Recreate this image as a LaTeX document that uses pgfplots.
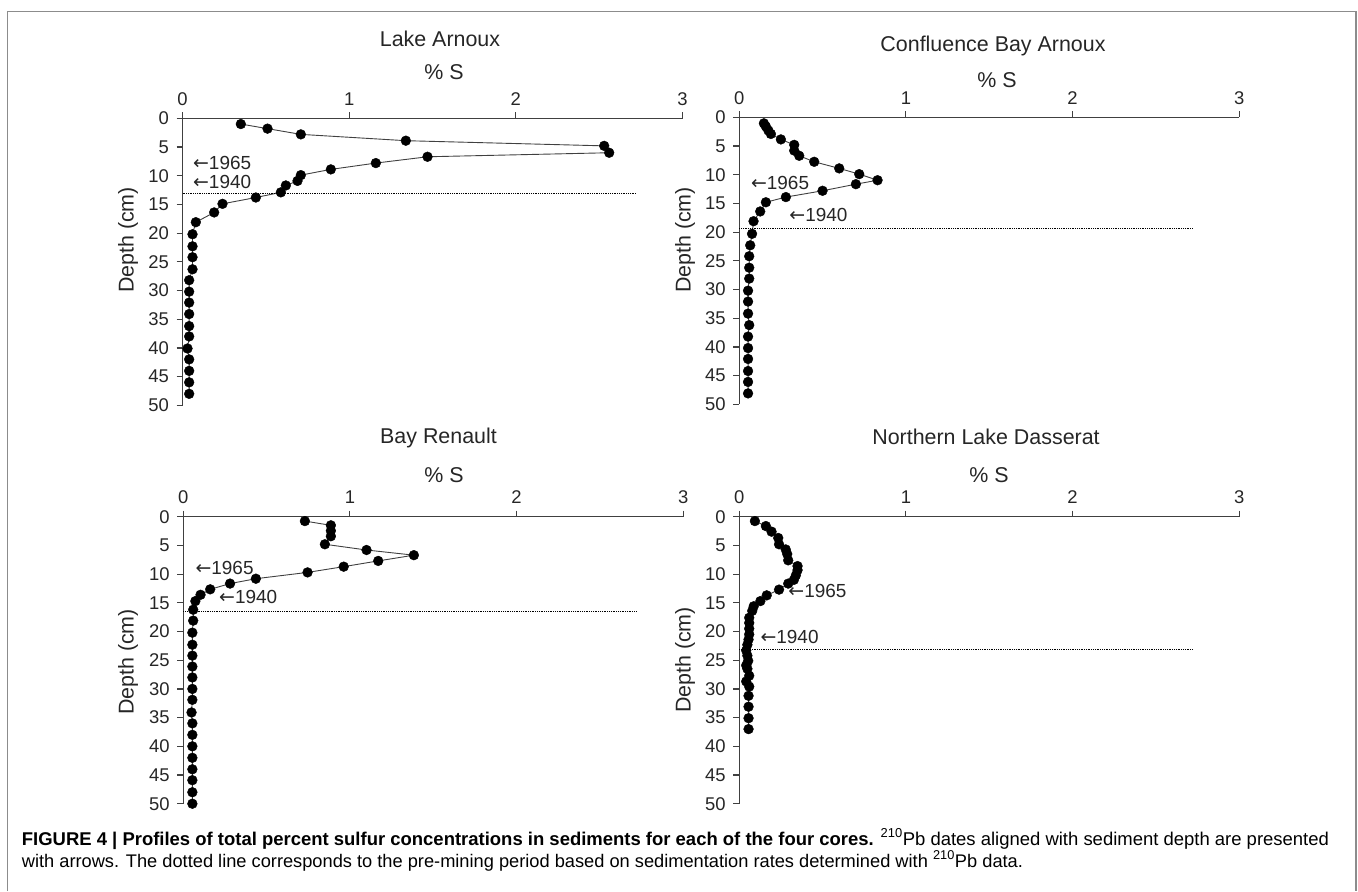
\documentclass[border=0pt]{standalone}
\usepackage{pgfplots}
\pgfplotsset{compat=1.18}
\usepackage{fontspec}
\setmainfont{Liberation Sans}
\newfontfamily\dejavu{DejaVu Sans}
\definecolor{axisgray}{HTML}{404040}
\definecolor{framegray}{HTML}{8C8C8C}
\definecolor{txt}{HTML}{262626}

\pgfplotsset{
  every non boxed x axis/.append style={x axis line style={-}, xtick align=outside},
  every non boxed y axis/.append style={y axis line style={-}, ytick align=outside},
  coreaxis/.style={
    scale only axis, width=500bp, height=287bp, anchor=north west,
    xmin=0, xmax=3, ymin=0, ymax=50, y dir=reverse,
    axis x line=top, axis y line=left,
    axis line style={draw=axisgray, line width=1.2bp},
    xtick={0,1,2,3}, ytick={0,5,...,50},
    major tick length=6bp,
    tick style={draw=axisgray, line width=1.2bp},
    /pgf/number format/assume math mode=true,
    tick label style={font=\fontsize{18.5}{20}\selectfont, text=txt},
    xticklabel style={yshift=3.5bp},
    yticklabel style={xshift=-4bp},
    clip=false,
  },
  profile/.style={color=axisgray, line width=0.9bp, mark=*, mark size=4.9bp,
    mark options={fill=black, draw=black, line width=0.4bp}},
  premine/.style={black, densely dotted, line width=0.8bp, mark=none, forget plot},
}
\newcommand{\ann}{\fontsize{19}{21}\selectfont}
\newcommand{\ttl}{\fontsize{21.5}{23}\selectfont}
\newcommand{\arr}{{\dejavu ←}}

\begin{document}
\begin{tikzpicture}[x=1bp,y=1bp]
\useasboundingbox (0,0) rectangle (1358,-891);
\draw[framegray, line width=1.2bp] (7.3,-891) -- (7.3,-11.7) -- (1356,-11.7) -- (1356,-891);

% ---------- Lake Arnoux ----------
\begin{axis}[coreaxis, at={(182.5bp,-118.3bp)}]
\addplot[profile] coordinates {
(0.35,1.0) (0.51,1.8) (0.71,2.8) (1.34,3.9) (2.53,4.8) (2.56,6.0) (1.47,6.7)
(1.16,7.8) (0.89,8.9) (0.71,9.9) (0.69,10.9) (0.62,11.7) (0.59,12.9) (0.44,13.8)
(0.24,14.9) (0.19,16.4) (0.08,18.1) (0.06,20.2) (0.06,22.3) (0.06,24.2) (0.06,26.3)
(0.04,28.2) (0.04,30.2) (0.04,32.1) (0.04,34.1) (0.04,36.2) (0.04,38.0) (0.03,40.1)
(0.04,42.0) (0.04,44.0) (0.04,46.0) (0.04,48.0)};
\addplot[premine] coordinates {(0,13.0) (2.72,13.0)};
\node[anchor=west, inner sep=0, font=\ann, text=txt] at (axis cs:0.0625,7.85) {\arr1965};
\node[anchor=west, inner sep=0, font=\ann, text=txt] at (axis cs:0.0625,11.1) {\arr1940};
\end{axis}

% ---------- Confluence Bay Arnoux ----------
\begin{axis}[coreaxis, at={(739.2bp,-117.3bp)}]
\addplot[profile] coordinates {
(0.148,1.05) (0.16,1.6) (0.175,2.3) (0.19,2.9) (0.25,3.85) (0.33,4.8) (0.33,5.8)
(0.36,6.7) (0.45,7.75) (0.60,8.9) (0.72,9.9) (0.83,10.96) (0.70,11.65) (0.50,12.8)
(0.28,13.9) (0.16,14.8) (0.126,16.4) (0.086,18.1) (0.077,20.3) (0.066,22.3) (0.06,24.2)
(0.06,26.2) (0.06,28.1) (0.053,30.2) (0.053,32.1) (0.053,34.2) (0.06,36.2) (0.053,38.2)
(0.053,40.2) (0.053,42.1) (0.053,44.2) (0.053,46.1) (0.053,48.1)};
\addplot[premine] coordinates {(0,19.3) (2.72,19.3)};
\node[anchor=west, inner sep=0, font=\ann, text=txt] at (axis cs:0.07,11.4) {\arr1965};
\node[anchor=west, inner sep=0, font=\ann, text=txt] at (axis cs:0.30,17.1) {\arr1940};
\end{axis}

% ---------- Bay Renault ----------
\begin{axis}[coreaxis, at={(183.2bp,-516.7bp)}]
\addplot[profile] coordinates {
(0.73,0.76) (0.886,1.5) (0.886,2.45) (0.886,3.4) (0.85,4.8) (1.10,5.8) (1.384,6.7)
(1.17,7.7) (0.963,8.7) (0.746,9.7) (0.436,10.8) (0.281,11.65) (0.162,12.65) (0.104,13.6)
(0.073,14.7) (0.06,16.2) (0.06,18.1) (0.055,20.2) (0.055,22.3) (0.055,24.2) (0.055,26.1)
(0.055,28.0) (0.055,30.0) (0.055,31.9) (0.05,34.1) (0.055,36.0) (0.055,38.0) (0.055,40.0)
(0.055,42.0) (0.055,44.0) (0.055,45.9) (0.055,48.0) (0.055,50.0)};
\addplot[premine] coordinates {(0,16.5) (2.72,16.5)};
\node[anchor=west, inner sep=0, font=\ann, text=txt] at (axis cs:0.073,9.0) {\arr1965};
\node[anchor=west, inner sep=0, font=\ann, text=txt] at (axis cs:0.215,14.0) {\arr1940};
\end{axis}

% ---------- Northern Lake Dasserat ----------
\begin{axis}[coreaxis, at={(739.2bp,-516.7bp)}]
\addplot[profile] coordinates {
(0.094,0.76) (0.16,1.63) (0.194,2.6) (0.234,3.7) (0.239,4.8) (0.279,5.7) (0.288,6.5)
(0.294,7.6) (0.35,8.6) (0.35,9.3) (0.34,10.2) (0.328,11.0) (0.294,11.65) (0.239,12.7)
(0.165,13.7) (0.127,14.7) (0.087,15.6) (0.078,16.4) (0.06,17.6) (0.06,18.5) (0.06,19.5)
(0.06,20.5) (0.056,21.4) (0.049,22.3) (0.042,23.3) (0.049,24.2) (0.054,25.1) (0.042,25.9)
(0.049,26.5) (0.06,27.7) (0.042,28.7) (0.06,29.6) (0.056,31.2) (0.056,33.1) (0.056,35.1)
(0.056,37.0)};
\addplot[premine] coordinates {(0,23.1) (2.72,23.1)};
\node[anchor=west, inner sep=0, font=\ann, text=txt] at (axis cs:0.294,12.9) {\arr1965};
\node[anchor=west, inner sep=0, font=\ann, text=txt] at (axis cs:0.127,21.0) {\arr1940};
\end{axis}

% ---------- titles and axis labels ----------
\begin{scope}[every node/.style={font=\ttl, text=txt, inner sep=0}]
\node at (440,-38.5) {Lake Arnoux};
\node at (444,-71.7) {\% S};
\node[rotate=90] at (128,-240) {Depth (cm)};
\node at (993,-46) {Confluence Bay Arnoux};
\node at (997,-80) {\% S};
\node[rotate=90] at (685,-240) {Depth (cm)};
\node at (438.5,-438) {Bay Renault};
\node at (444,-475) {\% S};
\node[rotate=90] at (128,-662) {Depth (cm)};
\node at (986,-437) {Northern Lake Dasserat};
\node at (989,-475) {\% S};
\node[rotate=90] at (685,-660) {Depth (cm)};
\end{scope}

% ---------- caption ----------
\node[anchor=base west, inner sep=0] at (21.7,-845) {\resizebox{1307bp}{!}{\fontsize{16}{18}\selectfont\textbf{FIGURE 4 | Profiles of total percent sulfur concentrations in sediments for each of the four cores.} \textsuperscript{210}Pb dates aligned with sediment depth are presented}};
\node[anchor=base west, inner sep=0] at (21.7,-867) {\resizebox{1001bp}{!}{\fontsize{16}{18}\selectfont with arrows. The dotted line corresponds to the pre-mining period based on sedimentation rates determined with \textsuperscript{210}Pb data.}};
\end{tikzpicture}
\end{document}
